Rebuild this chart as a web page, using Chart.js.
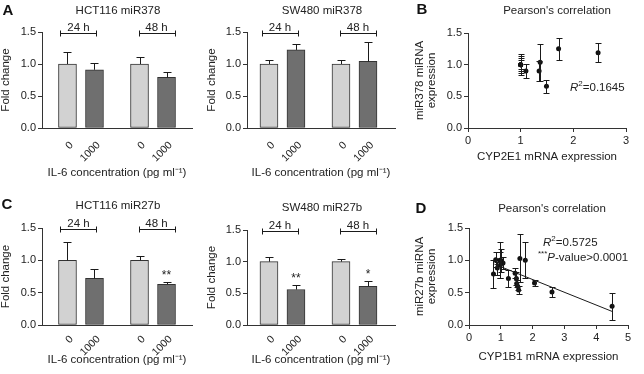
<!DOCTYPE html>
<html><head><meta charset="utf-8">
<script src="https://cdn.jsdelivr.net/npm/chart.js@4"></script>
<style>
body{margin:0;background:#fff;}
#wrap{position:relative;width:644px;height:374px;overflow:hidden;font-family:"Liberation Sans",Arial,sans-serif;color:#222;}
canvas{position:absolute;}
.t{position:absolute;transform:translate(-50%,-50%);white-space:nowrap;font-size:11.5px;}
.lt{position:absolute;font-weight:bold;font-size:15px;transform:translate(-50%,-50%);color:#111;}
.ann{position:absolute;white-space:nowrap;font-size:11.5px;transform:translateY(-50%);}
.ann sup{font-size:8px;vertical-align:5px;line-height:0;}
</style></head><body><div id="wrap">
<canvas id="cA" width="210" height="180" style="left:0;top:0"></canvas>
<canvas id="cA2" width="200" height="180" style="left:206px;top:0"></canvas>
<canvas id="cB" width="234" height="164" style="left:410px;top:0"></canvas>
<canvas id="cC" width="210" height="182" style="left:0;top:185px"></canvas>
<canvas id="cC2" width="200" height="182" style="left:206px;top:185px"></canvas>
<canvas id="cD" width="234" height="179" style="left:410px;top:185px"></canvas>

<div class="lt" style="left:8px;top:9px">A</div>
<div class="lt" style="left:422px;top:8px">B</div>
<div class="lt" style="left:7px;top:203px">C</div>
<div class="lt" style="left:421px;top:207px">D</div>

<div class="t" style="left:118px;top:10px">HCT116 miR378</div>
<div class="t" style="left:322px;top:10px">SW480 miR378</div>
<div class="t" style="left:557px;top:10px">Pearson's correlation</div>
<div class="t" style="left:118px;top:205px">HCT116 miR27b</div>
<div class="t" style="left:322px;top:207px">SW480 miR27b</div>
<div class="t" style="left:552px;top:208px">Pearson's correlation</div>

<div class="ann" style="left:570px;top:87px"><i>R</i><sup>2</sup>=0.1645</div>
<div class="ann" style="left:543px;top:242px"><i>R</i><sup>2</sup>=0.5725</div>
<div class="ann" style="left:538px;top:257px"><sup>***</sup><i>P</i>-value&gt;0.0001</div>
</div>
<script>
// ---------- data ----------
const doseLabels = ['0', '1000', '0', '1000'];
const timeLabels = ['24 h', '48 h'];
const yTicks = [0, 0.5, 1.0, 1.5];

const hct378Mean = [1.0, 0.91, 1.0, 0.79];
const hct378Err  = [0.18, 0.10, 0.11, 0.08];
const sw378Mean  = [1.0, 1.22, 1.0, 1.04];
const sw378Err   = [0.07, 0.10, 0.07, 0.30];
const hct27Mean  = [1.0, 0.72, 1.0, 0.63];
const hct27Err   = [0.28, 0.14, 0.06, 0.04];
const hct27Sig   = ['', '', '', '**'];
const sw27Mean   = [1.0, 0.56, 1.0, 0.61];
const sw27Err    = [0.08, 0.07, 0.05, 0.08];
const sw27Sig    = ['', '**', '', '*'];
const noSig      = ['', '', '', ''];

const cyp2e1X   = [1.0, 1.0, 1.0, 1.0, 1.1, 1.35, 1.37, 1.49, 1.72, 2.47];
const mir378Y   = [1.0, 1.0, 1.0, 1.0, 0.9, 0.9, 1.04, 0.66, 1.25, 1.19];
const mir378SD  = [0.17, 0.13, 0.10, 0.07, 0.11, 0.15, 0.29, 0.10, 0.17, 0.15];
const cyp2e1Ticks = [0, 1, 2, 3];

const cyp1b1X   = [0.77, 0.84, 0.89, 0.97, 0.99, 1.0, 1.07, 1.24, 1.45, 1.49, 1.5, 1.53, 1.56, 1.6, 1.77, 2.06, 2.61, 4.5];
const mir27bY   = [0.79, 1.01, 0.88, 1.0, 0.93, 1.0, 0.96, 0.72, 0.8, 0.72, 0.64, 0.6, 0.54, 1.03, 1.0, 0.65, 0.51, 0.29];
const mir27bSD  = [0.22, 0.12, 0.10, 0.28, 0.20, 0.18, 0.09, 0.13, 0.08, 0.10, 0.05, 0.06, 0.06, 0.37, 0.28, 0.05, 0.07, 0.21];
const cyp1b1Ticks = [0, 1, 2, 3, 4, 5];
const fitX = [0.8, 4.5];
const fitY = [0.94, 0.21];

// ---------- styles ----------
const FONT = '"Liberation Sans", Arial, sans-serif';
const TXT = '#222';
const AX = '#333';
const LIGHT = '#d2d2d2';
const DARK = '#6f6f6f';

const errPlugin = {
  id: 'errbars',
  afterDatasetsDraw(chart, args, o) {
    if (!o || !o.err) return;
    const ctx = chart.ctx, ys = chart.scales.y, meta = chart.getDatasetMeta(0);
    ctx.save();
    ctx.strokeStyle = '#1a1a1a'; ctx.fillStyle = TXT; ctx.lineWidth = 1;
    meta.data.forEach((el, i) => {
      const v = o.values[i], e = o.err[i];
      const x = Math.round(el.x) + 0.5;
      const yTop = Math.round(ys.getPixelForValue(v + e)) + 0.5;
      const yBot = o.kind === 'bar' ? ys.getPixelForValue(v) : Math.round(ys.getPixelForValue(v - e)) + 0.5;
      ctx.beginPath();
      ctx.moveTo(x, yTop); ctx.lineTo(x, yBot);
      ctx.moveTo(x - o.cap, yTop); ctx.lineTo(x + o.cap, yTop);
      if (o.kind !== 'bar') { ctx.moveTo(x - o.cap, yBot); ctx.lineTo(x + o.cap, yBot); }
      ctx.stroke();
      if (o.sig && o.sig[i]) {
        ctx.font = '12px ' + FONT; ctx.textAlign = 'center'; ctx.textBaseline = 'middle';
        ctx.fillText(o.sig[i], el.x, yTop - 7);
      }
    });
    if (o.groups) {
      const yb = Math.round(ys.getPixelForValue(1.5)) + 1.5;
      o.groups.forEach((lab, g) => {
        const a = meta.data[2 * g], b = meta.data[2 * g + 1];
        const mid = (a.x + b.x) / 2 + (g === 0 ? -2.5 : 3.5);
        const x1 = Math.round(mid - 18) + 0.5, x2 = Math.round(mid + 18) + 0.5;
        ctx.beginPath();
        ctx.moveTo(x1, yb); ctx.lineTo(x2, yb);
        ctx.moveTo(x1, yb - 3); ctx.lineTo(x1, yb + 3);
        ctx.moveTo(x2, yb - 3); ctx.lineTo(x2, yb + 3);
        ctx.stroke();
        ctx.font = '11.5px ' + FONT; ctx.textAlign = 'center'; ctx.textBaseline = 'alphabetic';
        ctx.fillText(lab, mid, yb - 3);
      });
    }
    ctx.restore();
  }
};
Chart.register(errPlugin);

function yScale(width, title) {
  return {
    min: 0, max: 1.5,
    afterFit: s => { s.width = width; },
    afterBuildTicks: s => { s.ticks = yTicks.map(v => ({ value: v })); },
    grid: { drawOnChartArea: false, drawTicks: true, tickLength: 4, color: AX },
    border: { display: true, color: AX },
    ticks: { padding: 2, color: TXT, font: { size: 11, family: FONT }, callback: v => v.toFixed(1) },
    title: { display: true, text: title, color: TXT, font: { size: 11.5, family: FONT, lineHeight: 1.05 }, padding: { top: Array.isArray(title) ? 4 : 0, bottom: 0 } }
  };
}

function barChart(id, mean, err, sig, cfg) {
  const pos = mean.map((_, i) => i * 3 + (i >= 2 ? 2 : 0));
  new Chart(document.getElementById(id), {
    type: 'bar',
    data: { datasets: [{
      data: pos.map((p, i) => ({ x: p, y: mean[i] })),
      backgroundColor: doseLabels.map(d => d === '0' ? LIGHT : DARK),
      borderColor: AX, borderWidth: 1, barThickness: 18, borderSkipped: false
    }] },
    options: {
      responsive: false, animation: false, devicePixelRatio: 1,
      layout: { padding: cfg.pad },
      plugins: { legend: { display: false }, tooltip: { enabled: false },
        errbars: { kind: 'bar', values: mean, err: err, sig: sig, cap: 4, groups: timeLabels } },
      scales: {
        x: {
          type: 'linear', min: cfg.xmin, max: cfg.xmax, offset: false,
          afterFit: s => { s.height = cfg.xh; },
          afterBuildTicks: s => { s.ticks = pos.map(v => ({ value: v })); },
          grid: { display: false },
          border: { display: true, color: AX },
          ticks: { autoSkip: false, minRotation: 45, maxRotation: 45, padding: cfg.tp, labelOffset: 4, color: TXT,
                   font: { size: 10.5, family: FONT }, callback: (v, i) => doseLabels[i] },
          title: { display: true, text: 'IL-6 concentration (pg ml\u207B\u00B9)', color: TXT,
                   font: { size: 11.5, family: FONT }, padding: { top: 0, bottom: 0 } }
        },
        y: yScale(cfg.yw, 'Fold change')
      }
    }
  });
}

function scatterChart(id, xs, ys, sds, xt, xmax, xTitle, yTitle, cfg, fit) {
  const datasets = [{
    type: 'scatter',
    data: xs.map((x, i) => ({ x: x, y: ys[i] })),
    pointRadius: 2.5, pointHoverRadius: 2.5, backgroundColor: '#111', borderWidth: 0
  }];
  if (fit) datasets.push({
    type: 'line', data: fit[0].map((x, i) => ({ x: x, y: fit[1][i] })),
    borderColor: '#1a1a1a', borderWidth: 1, pointRadius: 0, fill: false
  });
  new Chart(document.getElementById(id), {
    type: 'scatter',
    data: { datasets: datasets },
    options: {
      responsive: false, animation: false, devicePixelRatio: 1,
      layout: { padding: cfg.pad },
      plugins: { legend: { display: false }, tooltip: { enabled: false },
        errbars: { kind: 'point', values: ys, err: sds, cap: 3 } },
      scales: {
        x: {
          type: 'linear', min: 0, max: xmax,
          afterFit: s => { s.height = cfg.xh; },
          afterBuildTicks: s => { s.ticks = xt.map(v => ({ value: v })); },
          grid: { drawOnChartArea: false, drawTicks: true, tickLength: 4, color: AX },
          border: { display: true, color: AX },
          ticks: { padding: 2, color: TXT, font: { size: 11, family: FONT }, callback: v => String(v) },
          title: { display: true, text: xTitle, color: TXT, font: { size: 11.5, family: FONT }, padding: { top: 0, bottom: 0 } }
        },
        y: yScale(cfg.yw, yTitle)
      }
    }
  });
}

barChart('cA', hct378Mean, hct378Err, noSig, { pad: { top: 32, right: 18, bottom: 0, left: 0 }, xh: 52, yw: 42, xmin: -2.83, xmax: 13.83, tp: 3 });
barChart('cA2', sw378Mean, sw378Err, noSig, { pad: { top: 32, right: 11, bottom: 0, left: 0 }, xh: 52, yw: 41, xmin: -2.44, xmax: 14.0, tp: 3 });
barChart('cC', hct27Mean, hct27Err, hct27Sig, { pad: { top: 43, right: 18, bottom: 0, left: 0 }, xh: 42, yw: 42, xmin: -2.83, xmax: 13.83, tp: 0 });
barChart('cC2', sw27Mean, sw27Err, sw27Sig, { pad: { top: 45, right: 11, bottom: 0, left: 0 }, xh: 42, yw: 41, xmin: -2.44, xmax: 14.0, tp: 0 });
scatterChart('cB', cyp2e1X, mir378Y, mir378SD, cyp2e1Ticks, 3, 'CYP2E1 mRNA expression', ['miR378 miRNA', 'expression'],
  { pad: { top: 33, right: 18, bottom: 0, left: 0 }, xh: 36, yw: 58 }, null);
scatterChart('cD', cyp1b1X, mir27bY, mir27bSD, cyp1b1Ticks, 5, 'CYP1B1 mRNA expression', ['miR27b miRNA', 'expression'],
  { pad: { top: 43, right: 16, bottom: 0, left: 0 }, xh: 39, yw: 59 }, [fitX, fitY]);
</script>
</body></html>
